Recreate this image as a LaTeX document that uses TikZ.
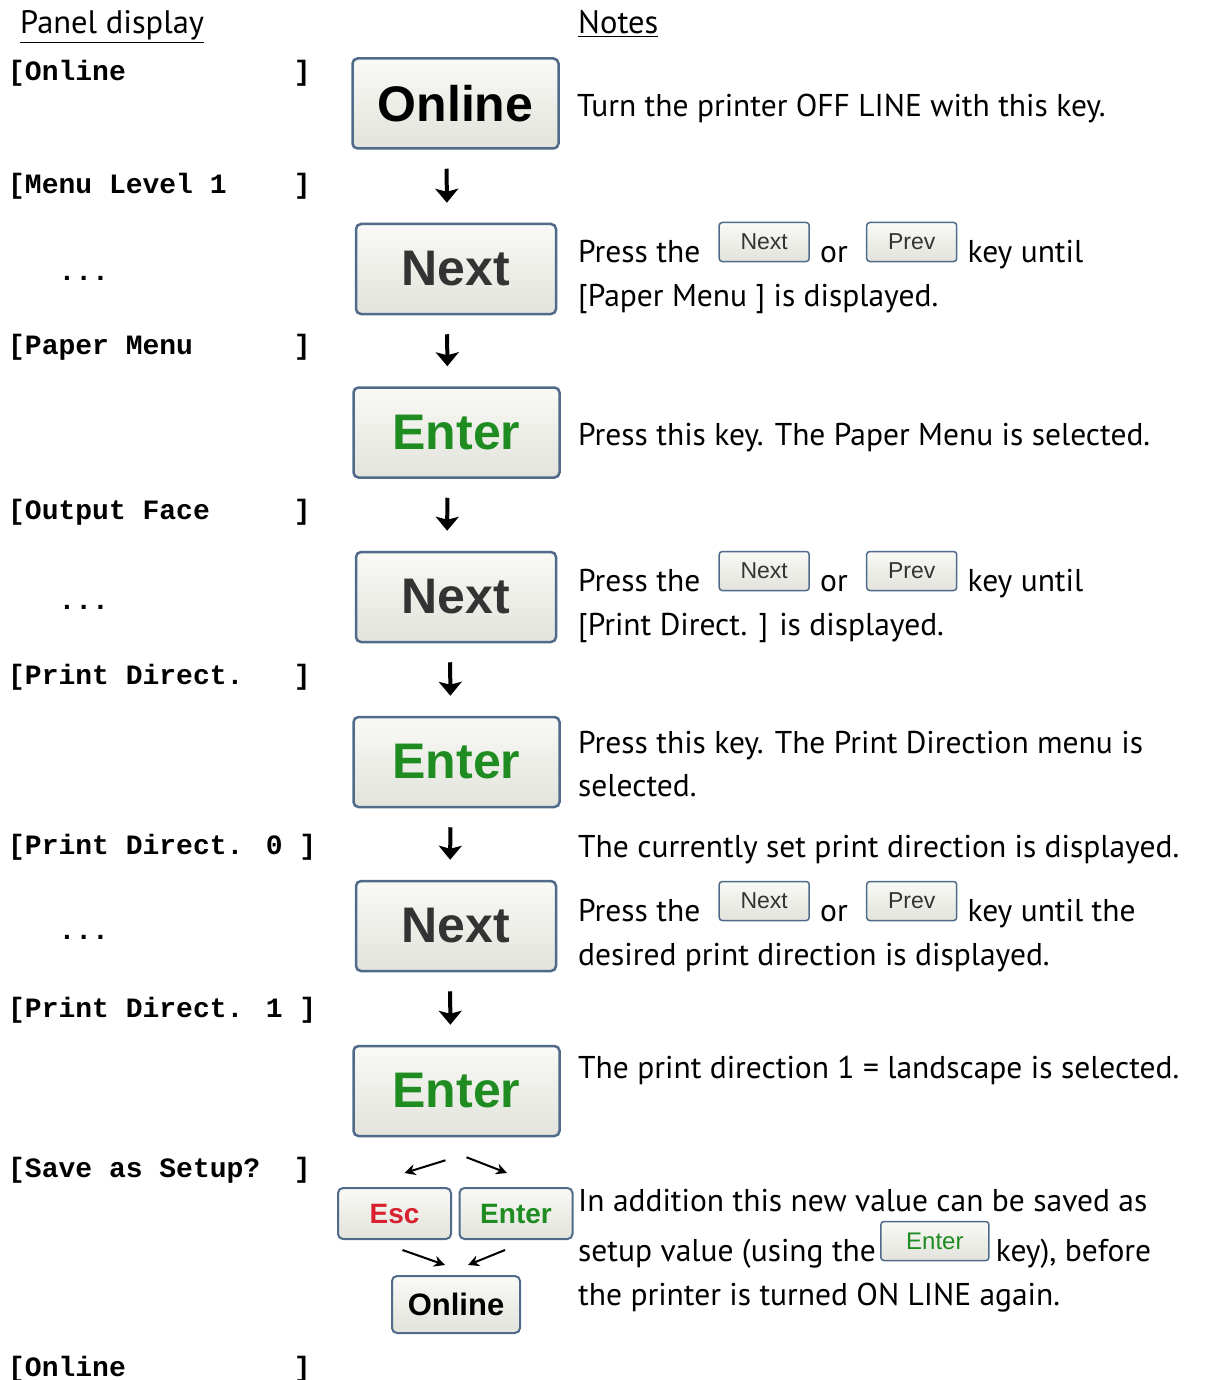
\documentclass[tikz,border=0pt]{standalone}
\usepackage{fontspec}
\setmainfont{PT Sans}
\newfontfamily\keyfont{Liberation Sans}
\newfontfamily\panelfont{Liberation Mono}
\usetikzlibrary{arrows.meta,positioning}

\definecolor{keyborder}{HTML}{506B8A}
\definecolor{keytop}{HTML}{F9F9F6}
\definecolor{keybottom}{HTML}{E3E3DC}
\definecolor{entergreen}{HTML}{1F8C22}
\definecolor{escred}{HTML}{D8202F}
\definecolor{nextgray}{HTML}{333333}

\tikzset{
  key/.style={draw=keyborder, rounded corners=5pt, top color=keytop,
    bottom color=keybottom, inner sep=0pt},
  bigkey/.style={key, line width=2.5pt, minimum width=206pt, minimum height=90pt,
    font=\keyfont\bfseries\fontsize{50}{50}\selectfont},
  midkey/.style={key, line width=2pt, minimum width=113pt, minimum height=51pt,
    font=\keyfont\bfseries\fontsize{28}{28}\selectfont},
  smallkey/.style={key, line width=1.5pt, rounded corners=3pt, minimum width=90pt,
    minimum height=39pt, font=\keyfont\fontsize{23}{23}\selectfont, text=nextgray},
  panel/.style={anchor=base west, inner sep=0pt,
    font=\panelfont\bfseries\fontsize{28}{28}\selectfont},
  note/.style={anchor=base west, inner sep=0pt, font=\fontsize{31.5}{36}\selectfont},
  head/.style={note, font=\fontsize{32.5}{36}\selectfont},
  flow/.style={line width=4pt, -{Stealth[length=14pt,width=23pt,inset=3pt]},
    shorten <=19pt, shorten >=20pt},
  fork/.style={line width=2pt, -{Stealth[length=11pt,width=11pt]}},
}

\begin{document}
\begin{tikzpicture}[x=1pt,y=-1pt]
  \useasboundingbox (0,0) rectangle (1205,1380);

  % Headings
  \node[head] (hpanel) at (20,34) {\underline{Panel display}};
  \node[head] (hnotes) at (578,34) {\underline{Notes}};

  % Panel display
  \node[panel] (p1) at (8,81) {[Online~~~~~~~~~~]};
  \node[panel] (p2) at (8,194) {[Menu Level 1~~~~]};
  \node[panel] (p3) at (8,280) {~~~...};
  \node[panel] (p4) at (8,354) {[Paper Menu~~~~~~]};
  \node[panel] (p5) at (8,519) {[Output Face~~~~~]};
  \node[panel] (p6) at (8,609) {~~~...};
  \node[panel] (p7) at (8,684) {[Print Direct.~~~]};
  \node[panel] (p8) at (8,854) {[Print Direct. 0 ]};
  \node[panel] (p9) at (8,939) {~~~...};
  \node[panel] (p10) at (8,1017) {[Print Direct. 1 ]};
  \node[panel] (p11) at (8,1177) {[Save as Setup?~~]};
  \node[panel] (p12) at (8,1376) {[Online~~~~~~~~~~]};

  % Keys
  \node[bigkey] (online1) at (455.5,103.5) {Online};
  \node[bigkey, minimum width=200pt, text=nextgray] (next1) at (456,269) {Next};
  \node[bigkey, text=entergreen] (enter1) at (456.5,432.5) {Enter};
  \node[bigkey, minimum width=200pt, text=nextgray] (next2) at (456,597) {Next};
  \node[bigkey, text=entergreen] (enter2) at (456.5,762) {Enter};
  \node[bigkey, minimum width=200pt, text=nextgray] (next3) at (456,926) {Next};
  \node[bigkey, text=entergreen] (enter3) at (456.5,1091) {Enter};
  \node[midkey, text=escred] (esc) at (394.5,1213.5) {Esc};
  \node[midkey, text=entergreen] (enter4) at (516,1213.5) {Enter};
  \node[midkey, minimum width=128pt, minimum height=57pt,
    font=\keyfont\bfseries\fontsize{31}{31}\selectfont] (online2) at (456,1304.5) {Online};

  \draw[flow] ([xshift=-9pt]online1.south) -- ([xshift=-9pt]next1.north);
  \draw[flow] ([xshift=-9pt]next1.south) -- ([xshift=-9pt]enter1.north);
  \draw[flow] ([xshift=-9pt]enter1.south) -- ([xshift=-9pt]next2.north);
  \draw[flow] ([xshift=-6pt]next2.south) -- ([xshift=-6pt]enter2.north);
  \draw[flow] ([xshift=-6pt]enter2.south) -- ([xshift=-6pt]next3.north);
  \draw[flow] ([xshift=-6pt]next3.south) -- ([xshift=-6pt]enter3.north);

  \draw[fork] ([xshift=-11pt,yshift=-23pt]enter3.south) -- ([xshift=10pt,yshift=14pt]esc.north);
  \draw[fork] ([xshift=10pt,yshift=-20pt]enter3.south) -- ([xshift=-9pt,yshift=14pt]enter4.north);
  \draw[fork] ([xshift=8pt,yshift=-10pt]esc.south) -- ([xshift=-11pt,yshift=10pt]online2.north);
  \draw[fork] ([xshift=-11pt,yshift=-10pt]enter4.south) -- ([xshift=12pt,yshift=10pt]online2.north);

  % Notes
  \node[note] (n1) at (577,117) {Turn the printer OFF LINE with this key.};

  \node[note] (n2a) at (578,262) {Press the};
  \node[smallkey, right=18pt of n2a.base east, yshift=20pt] (n2next) {Next};
  \node[note, right=10pt of n2next, anchor=base west, yshift=-20pt] (n2b) {or};
  \node[smallkey, right=18pt of n2b.base east, yshift=20pt] (n2prev) {Prev};
  \node[note, right=10pt of n2prev, anchor=base west, yshift=-20pt] (n2c) {key until};
  \node[note] (n2d) at (578,306) {[Paper Menu ] is displayed.};

  \node[note] (n3) at (578,445) {Press this key. The Paper Menu is selected.};

  \node[note] (n4a) at (578,591) {Press the};
  \node[smallkey, right=18pt of n4a.base east, yshift=20pt] (n4next) {Next};
  \node[note, right=10pt of n4next, anchor=base west, yshift=-20pt] (n4b) {or};
  \node[smallkey, right=18pt of n4b.base east, yshift=20pt] (n4prev) {Prev};
  \node[note, right=10pt of n4prev, anchor=base west, yshift=-20pt] (n4c) {key until};
  \node[note] (n4d) at (578,635) {[Print Direct. ] is displayed.};

  \node[note] (n5a) at (578,753) {Press this key. The Print Direction menu is};
  \node[note] (n5b) at (578,796) {selected.};

  \node[note] (n6) at (578,857) {The currently set print direction is displayed.};

  \node[note] (n7a) at (578,921) {Press the};
  \node[smallkey, right=18pt of n7a.base east, yshift=20pt] (n7next) {Next};
  \node[note, right=10pt of n7next, anchor=base west, yshift=-20pt] (n7b) {or};
  \node[smallkey, right=18pt of n7b.base east, yshift=20pt] (n7prev) {Prev};
  \node[note, right=10pt of n7prev, anchor=base west, yshift=-20pt] (n7c) {key until the};
  \node[note] (n7d) at (578,965) {desired print direction is displayed.};

  \node[note] (n8) at (578,1078) {The print direction 1 = landscape is selected.};

  \node[note] (n9a) at (578,1211) {In addition this new value can be saved as};
  \node[note] (n9b) at (578,1261) {setup value (using the};
  \node[smallkey, minimum width=108pt, text=entergreen,
    font=\keyfont\fontsize{24}{24}\selectfont, right=4pt of n9b.base east, yshift=20pt] (n9enter) {Enter};
  \node[note, right=6pt of n9enter, anchor=base west, yshift=-20pt] (n9c) {key), before};
  \node[note] (n9d) at (578,1305) {the printer is turned ON LINE again.};
\end{tikzpicture}
\end{document}
